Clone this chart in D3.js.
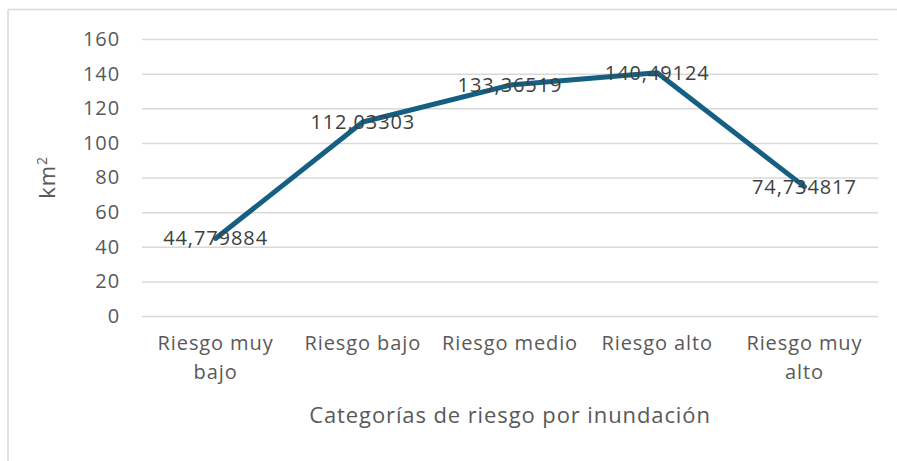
<!DOCTYPE html>
<html>
<head>
<meta charset="utf-8">
<script src="https://cdn.jsdelivr.net/npm/d3@7"></script>
<style>
  body { margin: 0; background: #fff; }
  svg { display: block; font-family: "Open Sans", sans-serif; letter-spacing: 0.9px; }
</style>
</head>
<body>
<div id="graph"><svg></svg></div>
<script>
// data
let categories = ["Riesgo muy bajo", "Riesgo bajo", "Riesgo medio", "Riesgo alto", "Riesgo muy alto"];
let values = [44.779884, 112.03303, 133.36519, 140.49124, 74.734817];
let valueLabels = ["44,779884", "112,03303", "133,36519", "140,49124", "74,734817"];
let yTicks = [0, 20, 40, 60, 80, 100, 120, 140, 160];

let outerWidth = 897;
let outerHeight = 461;
let margins = { top: 39, right: 19, bottom: 145, left: 142 };
let innerWidth = outerWidth - margins.left - margins.right;
let innerHeight = outerHeight - margins.top - margins.bottom;

let root = d3.select("div#graph svg")
  .attr("width", outerWidth)
  .attr("height", outerHeight);

// chart area border (only top and left edges are inside the picture)
root.append("line")
  .attr("x1", 8).attr("y1", 9.5).attr("x2", outerWidth).attr("y2", 9.5)
  .attr("stroke", "#d9d9d9").attr("stroke-width", 1.5);
root.append("line")
  .attr("x1", 8).attr("y1", 9.5).attr("x2", 8).attr("y2", outerHeight)
  .attr("stroke", "#d9d9d9").attr("stroke-width", 1.5);

let svg = root.append("g")
  .attr("transform", "translate(" + margins.left + "," + margins.top + ")");

let xScale = d3.scaleBand()
  .domain(categories)
  .range([0, innerWidth]);

let yScale = d3.scaleLinear()
  .domain([0, 160])
  .range([innerHeight, 0]);

// gridlines + y labels
let yAxis = svg.append("g")
  .call(d3.axisLeft(yScale).tickValues(yTicks).tickSize(-innerWidth).tickPadding(22));
yAxis.select(".domain").remove();
yAxis.selectAll(".tick line").attr("stroke", "#d9d9d9").attr("stroke-width", 1.5);
yAxis.selectAll(".tick text")
  .style("font-size", "20px")
  .style("font-family", "'Open Sans', sans-serif")
  .attr("fill", "#595959");

// x labels
let xAxis = svg.append("g")
  .attr("transform", "translate(0," + innerHeight + ")")
  .call(d3.axisBottom(xScale).tickSize(0).tickPadding(20));
xAxis.select(".domain").remove();
xAxis.selectAll(".tick text")
  .style("font-size", "20px")
  .style("font-family", "'Open Sans', sans-serif")
  .attr("fill", "#595959")
  .call(wrap, xScale.bandwidth() - 4);

function wrap(texts, width) {
  texts.each(function () {
    let text = d3.select(this);
    let words = text.text().split(" ");
    let y = text.attr("y");
    let dy = parseFloat(text.attr("dy"));
    let line = [];
    let lineNumber = 0;
    text.text(null);
    let tspan = text.append("tspan").attr("x", 0).attr("y", y).attr("dy", dy + "em");
    words.forEach(function (w) {
      line.push(w);
      tspan.text(line.join(" "));
      if (tspan.node().getComputedTextLength() > width && line.length > 1) {
        line.pop();
        tspan.text(line.join(" "));
        line = [w];
        lineNumber++;
        tspan = text.append("tspan").attr("x", 0).attr("y", y)
          .attr("dy", (dy + lineNumber * 1.45) + "em").text(w);
      }
    });
  });
}

// the line
let line = d3.line()
  .x((d, i) => xScale(categories[i]) + xScale.bandwidth() / 2)
  .y((d) => yScale(d));

svg.append("path")
  .datum(values)
  .attr("d", line)
  .attr("fill", "none")
  .attr("stroke", "#156082")
  .attr("stroke-width", 5)
  .attr("stroke-linejoin", "round")
  .attr("stroke-linecap", "round");

// value labels, centred on the points
svg.selectAll(".vlabel")
  .data(values)
  .enter()
  .append("text")
  .attr("class", "vlabel")
  .attr("x", (d, i) => xScale(categories[i]) + xScale.bandwidth() / 2)
  .attr("y", (d) => yScale(d))
  .attr("dy", "0.35em")
  .attr("text-anchor", "middle")
  .style("font-size", "20px")
  .attr("fill", "#404040")
  .text((d, i) => valueLabels[i]);

// axis titles
svg.append("text")
  .attr("x", innerWidth / 2)
  .attr("y", innerHeight + 107)
  .attr("text-anchor", "middle")
  .style("font-size", "22px")
  .attr("fill", "#595959")
  .text("Categorías de riesgo por inundación");

let yTitle = svg.append("text")
  .attr("transform", "translate(" + (-87) + "," + innerHeight / 2 + ") rotate(-90)")
  .attr("text-anchor", "middle")
  .style("font-size", "22px")
  .attr("fill", "#595959");
yTitle.append("tspan").text("km");
yTitle.append("tspan").attr("dy", "-0.6em").style("font-size", "14px").text("2");
</script>
</body>
</html>
